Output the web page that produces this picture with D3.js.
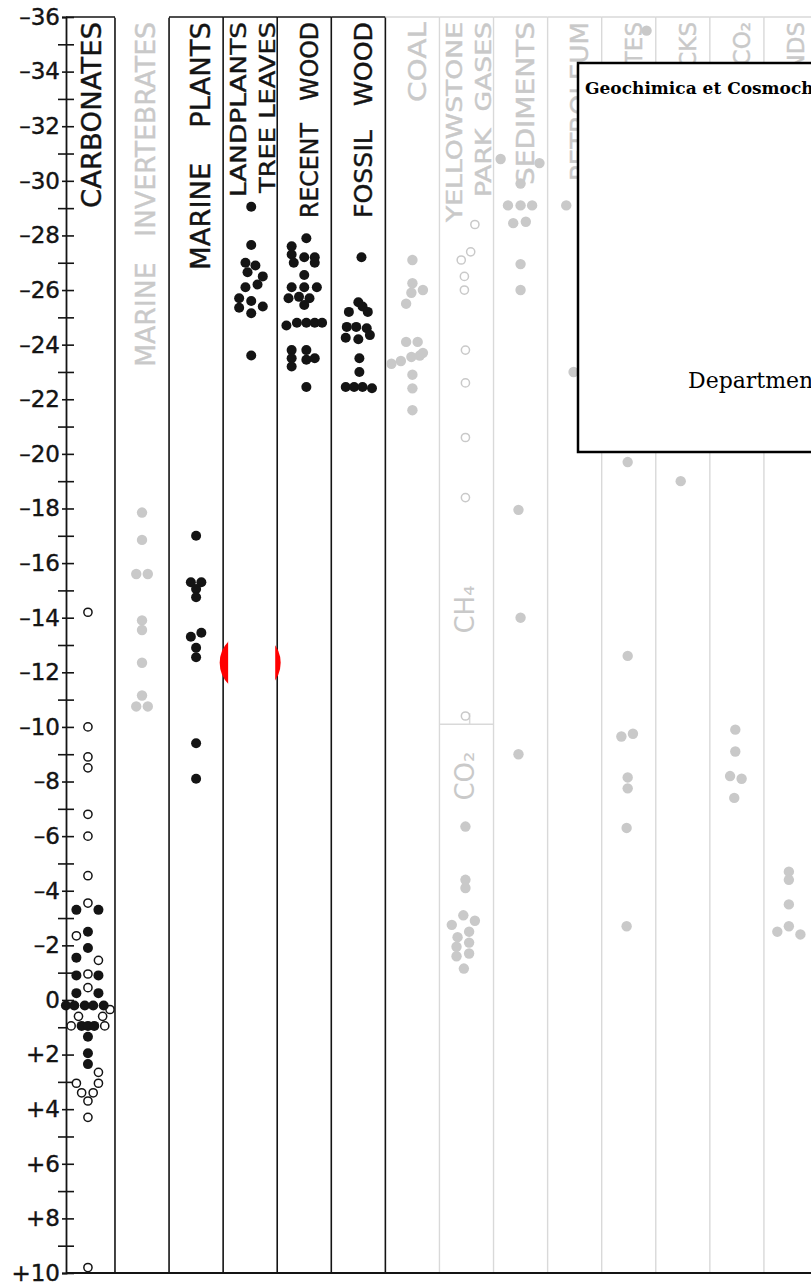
<!DOCTYPE html>
<html>
<head>
<meta charset="UTF-8">
<title>Carbon isotope ratios</title>
<script src="https://cdn.jsdelivr.net/npm/d3@7"></script>
<style>
  body { margin: 0; background: #fff; }
  svg { display: block; }
  .head text { white-space: pre; font-family: "DejaVu Sans", sans-serif; }
</style>
</head>
<body>
<svg width="811" height="1283"></svg>
<script>
// columns, left to right
var columns = ["CARBONATES", "MARINE INVERTEBRATES", "MARINE PLANTS", "LANDPLANTS",
  "RECENT WOOD", "FOSSIL WOOD", "COAL", "YELLOWSTONE", "SEDIMENTS", "PETROLEUM",
  "GRAPHITES", "IGNEOUS ROCKS", "ATMOSPHERIC CO2", "DIAMONDS"];
// columns printed faintly in the scan
var faded = ["MARINE INVERTEBRATES", "COAL", "YELLOWSTONE", "SEDIMENTS", "PETROLEUM",
  "GRAPHITES", "IGNEOUS ROCKS", "ATMOSPHERIC CO2", "DIAMONDS"];
var headerLines = [["CARBONATES"], ["MARINE   INVERTEBRATES"], ["MARINE    PLANTS"],
  ["LANDPLANTS", "TREE LEAVES"], ["RECENT   WOOD"], ["FOSSIL   WOOD"], ["COAL"],
  ["YELLOWSTONE", "PARK  GASES"], ["SEDIMENTS"], ["PETROLEUM"], ["GRAPHITES"],
  ["IGNEOUS  ROCKS"], ["ATMOSPHERIC  CO₂"], ["DIAMONDS"]];

// y ticks (per mil)
var majorTicks = d3.range(-36, 11, 2);
var minorTicks = d3.range(-35, 10, 2);

// points: [value, lane]  (lane = side-by-side slot inside a column)
var carbonatesOpen = [[-14.2,0],[-10.0,0],[-8.9,0],[-8.5,0],[-6.8,0],[-6.0,0],[-4.55,0],[-3.55,0],
  [-2.35,-1.1],[-1.45,1.0],[-0.95,0],[-0.45,0],[0.35,2.1],[0.6,-0.9],[0.6,1.4],[0.95,-1.6],
  [0.95,1.6],[2.65,1.0],[3.05,-1.1],[3.05,1.0],[3.4,-0.6],[3.4,0.5],[3.7,0],[4.3,0],[9.8,0]];
var carbonatesFilled = [[-3.3,-1.1],[-3.3,1.0],[-2.5,0],[-1.9,0],[-1.55,-1.1],[-0.9,-1.1],[-0.9,1.0],
  [-0.25,-1.1],[-0.25,1.0],[0.2,-2.1],[0.2,-1.3],[0.2,-0.3],[0.2,0.5],[0.2,1.5],[0.95,-0.6],
  [0.95,0],[0.95,0.6],[1.35,0],[1.95,0],[2.35,0]];
var marineInvertebrates = [[-17.85,0],[-16.85,0],[-15.6,-0.55],[-15.6,0.55],[-13.9,0],[-13.55,0],
  [-12.35,0],[-11.15,0],[-10.75,-0.55],[-10.75,0.55]];
var marinePlants = [[-17.0,0],[-15.3,-0.5],[-15.3,0.5],[-15.05,0],[-14.75,0],[-13.3,-0.5],
  [-13.45,0.5],[-12.9,0],[-12.55,0],[-9.4,0],[-8.1,0]];
var landPlants = [[-29.05,0.1],[-27.65,0.1],[-27.0,-0.45],[-26.9,0.5],[-26.65,-0.25],[-26.5,1.2],
  [-26.1,-0.45],[-26.2,0.7],[-25.7,-1.05],[-25.6,0.1],[-25.4,1.2],[-25.35,-1.05],[-25.15,0.1],[-23.6,0.1]];
var recentWood = [[-27.9,0.2],[-27.6,-1.2],[-27.3,-1.2],[-27.2,0],[-27.2,1.0],[-27.0,-1.0],[-27.0,1.0],
  [-26.55,0],[-26.1,-1.2],[-26.1,0],[-26.1,1.2],[-25.7,-1.5],[-25.75,-0.5],[-25.7,0.5],[-25.45,0],
  [-24.7,-1.7],[-24.8,-0.7],[-24.8,0.2],[-24.8,1.0],[-24.8,1.7],[-23.8,-1.2],[-23.8,0.2],[-23.5,-1.2],
  [-23.45,0.2],[-23.5,1.0],[-23.2,-1.2],[-22.45,0.2]];
var fossilWood = [[-27.2,0.3],[-25.55,0],[-25.4,0.4],[-25.2,-0.9],[-25.2,0.9],[-24.65,-1.1],[-24.65,-0.2],
  [-24.6,0.8],[-24.25,-1.2],[-24.2,0],[-24.35,1.1],[-23.5,0.1],[-23.0,0.1],[-22.45,-1.2],[-22.45,-0.4],
  [-22.45,0.4],[-22.4,1.3]];
var coal = [[-27.1,0],[-26.25,0],[-26.0,1.0],[-25.9,-0.1],[-25.5,-0.6],[-24.1,-0.6],[-24.1,0.5],
  [-23.3,-2.0],[-23.4,-1.1],[-23.55,-0.1],[-23.6,0.7],[-23.7,1.0],[-22.9,0],[-22.4,0],[-21.6,0]];
var yellowstoneOpen = [[-28.4,0.8],[-27.1,-0.5],[-27.4,0.4],[-26.5,-0.2],[-26.0,-0.2],[-23.8,-0.1],
  [-22.6,-0.1],[-20.6,-0.1],[-18.4,-0.1],[-10.4,-0.1]];
var yellowstoneFilled = [[-6.35,-0.1],[-4.4,-0.1],[-4.1,-0.1],[-3.1,-0.3],[-2.9,0.8],[-2.75,-1.4],
  [-2.5,0.25],[-2.3,-0.85],[-2.1,0.25],[-1.95,-0.95],[-1.7,0.25],[-1.6,-0.95],[-1.15,-0.25]];
var sediments = [[-30.8,-1.9],[-30.65,1.8],[-29.9,0],[-29.1,-1.2],[-29.1,0],[-29.1,1.1],[-28.45,-0.7],
  [-28.5,0.5],[-26.95,0],[-26.0,0],[-17.95,-0.2],[-14.0,0],[-9.0,-0.2]];
var petroleum = [[-29.1,-0.8],[-23.0,-0.1]];
var graphites = [[-35.5,1.7],[-19.7,-0.1],[-12.6,-0.1],[-9.65,-0.7],[-9.75,0.4],[-8.15,-0.1],
  [-7.75,-0.1],[-6.3,-0.2],[-2.7,-0.2]];
var igneousRocks = [[-19.0,-0.2]];
var atmosphericCO2 = [[-9.9,-0.15],[-9.1,-0.15],[-8.2,-0.65],[-8.1,0.45],[-7.4,-0.25]];
var diamonds = [[-4.7,-0.2],[-4.4,-0.2],[-3.5,-0.2],[-2.5,-1.3],[-2.7,-0.2],[-2.4,0.9]];

// Yellowstone gases split into CH4 (above) and CO2 (below)
var gasSplit = -10.1;
var gasLabels = [["CH₄", -14.3], ["CO₂", -8.2]];
// red mark on the scan
var marker = [{col: "LANDPLANTS", v: -12.35}];

var series = [
  {col: "CARBONATES", kind: "open", pts: carbonatesOpen},
  {col: "CARBONATES", kind: "filled", pts: carbonatesFilled},
  {col: "MARINE INVERTEBRATES", kind: "filled", pts: marineInvertebrates},
  {col: "MARINE PLANTS", kind: "filled", pts: marinePlants},
  {col: "LANDPLANTS", kind: "filled", pts: landPlants},
  {col: "RECENT WOOD", kind: "filled", pts: recentWood},
  {col: "FOSSIL WOOD", kind: "filled", pts: fossilWood},
  {col: "COAL", kind: "filled", pts: coal},
  {col: "YELLOWSTONE", kind: "open", pts: yellowstoneOpen},
  {col: "YELLOWSTONE", kind: "filled", pts: yellowstoneFilled},
  {col: "SEDIMENTS", kind: "filled", pts: sediments},
  {col: "PETROLEUM", kind: "filled", pts: petroleum},
  {col: "GRAPHITES", kind: "filled", pts: graphites},
  {col: "IGNEOUS ROCKS", kind: "filled", pts: igneousRocks},
  {col: "ATMOSPHERIC CO2", kind: "filled", pts: atmosphericCO2},
  {col: "DIAMONDS", kind: "filled", pts: diamonds}
];

var svg = d3.select("svg"),
    W = +svg.attr("width"),
    axisX = 66,
    ink = "#141414", grey = "#c9c9c9", greyLine = "#d9d9d9";

var y = d3.scaleLinear().domain([-36, 10]).range([17, 1273]);
var x = d3.scaleBand().domain(columns).range([60.9, 818]);
var laneW = 10.5;
var isFaded = function(c) { return faded.indexOf(c) >= 0; };
var colour = function(c) { return isFaded(c) ? grey : ink; };
var cx = function(c, lane) { return x(c) + x.bandwidth() / 2 + lane * laneW; };

// column rules
svg.append("g").selectAll("line").data(columns.slice(1)).join("line")
    .attr("x1", function(d) { return x(d); }).attr("x2", function(d) { return x(d); })
    .attr("y1", y(-36)).attr("y2", y(10))
    .attr("stroke", function(d, i) { return i < 6 ? ink : greyLine; })
    .attr("stroke-width", function(d, i) { return i < 6 ? 1.6 : 1.4; });

// top frame
svg.append("g").selectAll("line").data(columns).join("line")
    .attr("x1", function(d, i) { return i === 0 ? axisX : x(d); })
    .attr("x2", function(d) { return Math.min(W, x(d) + x.bandwidth()); })
    .attr("y1", y(-36)).attr("y2", y(-36))
    .attr("stroke", function(d, i) { return i === 1 ? "#fff" : (i < 6 ? ink : greyLine); })
    .attr("stroke-width", 1.6);

// column headings, rotated
var headStyle = {
  "CARBONATES": {size: 27, len: [186]},
  "MARINE INVERTEBRATES": {size: 27, len: [345]},
  "MARINE PLANTS": {size: 27, len: [248]},
  "LANDPLANTS": {size: 22, len: [175, 171]},
  "RECENT WOOD": {size: 24, len: [196]},
  "FOSSIL WOOD": {size: 24, len: [196]},
  "COAL": {size: 25, len: [80]},
  "YELLOWSTONE": {size: 21, len: [200, 175]},
  "SEDIMENTS": {size: 24, len: [163]},
  "PETROLEUM": {size: 24, len: [159]}
};
var heads = svg.append("g").attr("class", "head").selectAll("g").data(columns).join("g");
heads.each(function(col, ci) {
  var lines = headerLines[ci], st = headStyle[col] || {size: 23, len: []};
  d3.select(this).selectAll("text").data(lines).join("text")
      .attr("transform", function(t, i) {
        var bx = x(col) + (lines.length === 1 ? 40.5 : [23, 52][i]);
        return "translate(" + bx + "," + 22 + ") rotate(-90)";
      })
      .attr("text-anchor", "end")
      .attr("font-size", st.size)
      .attr("fill", colour(col))
      .attr("stroke", colour(col)).attr("stroke-width", 0.4)
      .attr("textLength", function(t, i) { return st.len[i] || null; })
      .attr("lengthAdjust", "spacingAndGlyphs")
      .text(function(t) { return t; });
});

// Yellowstone: CH4 / CO2 split
var ys = svg.append("g").attr("stroke", greyLine).attr("stroke-width", 1.5);
ys.append("line").attr("x1", x("YELLOWSTONE")).attr("x2", x("YELLOWSTONE") + x.bandwidth())
    .attr("y1", y(gasSplit)).attr("y2", y(gasSplit));
ys.append("line").attr("x1", cx("YELLOWSTONE", 0.3)).attr("x2", cx("YELLOWSTONE", 0.3))
    .attr("y1", y(gasSplit) - 11).attr("y2", y(gasSplit));
svg.append("g").selectAll("text").data(gasLabels).join("text")
    .attr("transform", function(d) { return "translate(" + (x("YELLOWSTONE") + 35) + "," + y(d[1]) + ") rotate(-90)"; })
    .attr("text-anchor", "middle")
    .attr("font-family", "DejaVu Sans, sans-serif")
    .attr("font-size", 26)
    .attr("fill", grey)
    .text(function(d) { return d[0]; });

// y axis
var yAxis = svg.append("g").attr("transform", "translate(" + axisX + ",0)")
    .call(d3.axisLeft(y).tickValues(majorTicks).tickSizeOuter(0).tickSize(4).tickPadding(2)
      .tickFormat(function(d) { return d > 0 ? "+" + d : d < 0 ? "–" + (-d) : "0"; }));
yAxis.select(".domain").attr("stroke", ink).attr("stroke-width", 1.8);
yAxis.selectAll(".tick line").attr("x1", 8).attr("stroke", ink).attr("stroke-width", 1.6);
yAxis.selectAll(".tick text").attr("font-family", "DejaVu Sans, sans-serif")
    .attr("font-size", 23).attr("fill", ink).attr("stroke", ink).attr("stroke-width", 0.4);
var yMinor = svg.append("g").attr("transform", "translate(" + axisX + ",0)")
    .call(d3.axisLeft(y).tickValues(minorTicks).tickSize(8).tickFormat(""));
yMinor.select(".domain").remove();
yMinor.selectAll(".tick line").attr("x1", 8).attr("stroke", ink).attr("stroke-width", 1.6);

// bottom rule
svg.append("line").attr("x1", axisX).attr("x2", W).attr("y1", y(10)).attr("y2", y(10))
    .attr("stroke", ink).attr("stroke-width", 1.8);

// points
var points = [];
series.forEach(function(s) {
  s.pts.forEach(function(p) { points.push({col: s.col, kind: s.kind, v: p[0], lane: p[1]}); });
});
svg.append("g").selectAll("circle").data(points).join("circle")
    .attr("cx", function(d) { return cx(d.col, d.lane); })
    .attr("cy", function(d) { return y(d.v); })
    .attr("r", function(d) { return d.kind === "open" ? 4.1 : (isFaded(d.col) ? 5.2 : 5); })
    .attr("fill", function(d) { return d.kind === "open" ? "#fff" : colour(d.col); })
    .attr("stroke", function(d) { return d.kind === "open" ? colour(d.col) : "none"; })
    .attr("stroke-width", 1.5);

// red mark, partly hidden
svg.append("g").selectAll("circle").data(marker).join("circle")
    .attr("cx", function(d) { return x(d.col) + x.bandwidth() / 2; })
    .attr("cy", function(d) { return y(d.v); })
    .attr("r", 30.5).attr("fill", "#ff0000");
svg.append("g").selectAll("rect").data(marker).join("rect")
    .attr("x", function(d) { return x(d.col) + 5; })
    .attr("width", x.bandwidth() - 7)
    .attr("y", function(d) { return y(d.v) - 32; })
    .attr("height", 64).attr("fill", "#fff");

// pasted journal header box
var box = svg.append("g");
box.append("rect").attr("x", 578).attr("y", 63).attr("width", 260).attr("height", 389)
    .attr("fill", "#fff").attr("stroke", "#000").attr("stroke-width", 2.5);
box.append("text").attr("x", 585).attr("y", 94)
    .attr("font-family", "DejaVu Serif, serif").attr("font-weight", "bold").attr("font-size", 17)
    .attr("fill", "#000").text("Geochimica et Cosmochimica Acta");
box.append("text").attr("x", 688).attr("y", 388)
    .attr("font-family", "DejaVu Serif, serif").attr("font-size", 22)
    .attr("fill", "#000").text("Department");
</script>
</body>
</html>
